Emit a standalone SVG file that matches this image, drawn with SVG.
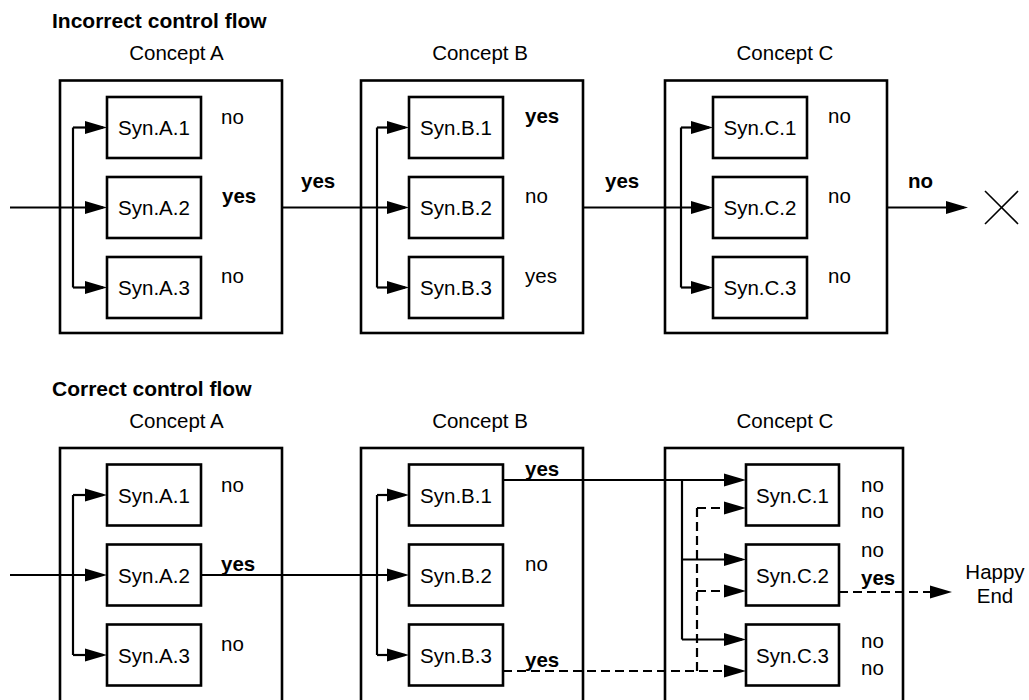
<svg xmlns="http://www.w3.org/2000/svg" width="1029" height="700" viewBox="0 0 1029 700">
<style>
text{font-family:"Liberation Sans",Arial,sans-serif;font-size:20.5px;fill:#000}
.t{font-weight:bold;font-size:21px}
.b{font-weight:bold}
.m{text-anchor:middle}
.outer{fill:none;stroke:#000;stroke-width:2.6}
.syn{fill:#fff;stroke:#000;stroke-width:2.6}
.c{fill:none;stroke:#000;stroke-width:2.2}
.a{fill:none;stroke:#000;stroke-width:2.2;marker-end:url(#ah)}
.d{fill:none;stroke:#000;stroke-width:2.2;stroke-dasharray:9 5}
.da{fill:none;stroke:#000;stroke-width:2.2;stroke-dasharray:9 5;marker-end:url(#ah)}
.x{stroke:#000;stroke-width:1.6}
</style>
<defs>
<marker id="ah" markerUnits="userSpaceOnUse" markerWidth="22" markerHeight="13" refX="18" refY="6.5" orient="auto" overflow="visible">
<path d="M0,0 L22,6.5 L0,13 Z" fill="#000"/>
</marker>
</defs>
<rect width="1029" height="700" fill="#fff"/>

<text class="t" x="52" y="28">Incorrect control flow</text>
<text class="t" x="52" y="395.5">Correct control flow</text>

<!-- Top panel: concepts -->
<g id="top-concept-a"><text class="m" x="176.5" y="60">Concept A</text><rect class="outer" x="60" y="80.5" width="222" height="252.5"/></g>
<g id="top-concept-b"><text class="m" x="480" y="60">Concept B</text><rect class="outer" x="361" y="80.5" width="222" height="252.5"/></g>
<g id="top-concept-c"><text class="m" x="785" y="60">Concept C</text><rect class="outer" x="665" y="80.5" width="222" height="252.5"/></g>

<!-- Bottom panel: concepts -->
<g id="bot-concept-a"><text class="m" x="176.5" y="428">Concept A</text><rect class="outer" x="60" y="448" width="222" height="260"/></g>
<g id="bot-concept-b"><text class="m" x="480" y="428">Concept B</text><rect class="outer" x="361" y="448" width="222" height="260"/></g>
<g id="bot-concept-c"><text class="m" x="785" y="428">Concept C</text><rect class="outer" x="665" y="448" width="238" height="260"/></g>

<!-- Connectors -->
<g id="connectors">
<!-- top -->
<path class="c" d="M73,127.5 V287.5"/>
<path class="a" d="M73,127.5 H103"/>
<path class="a" d="M10,207.5 H103"/>
<path class="a" d="M73,287.5 H103"/>
<path class="c" d="M377,127.5 V287.5"/>
<path class="a" d="M377,127.5 H405"/>
<path class="a" d="M282,207.5 H405"/>
<path class="a" d="M377,287.5 H405"/>
<path class="c" d="M681,127.5 V287.5"/>
<path class="a" d="M681,127.5 H709"/>
<path class="a" d="M583,207.5 H709"/>
<path class="a" d="M681,287.5 H709"/>
<path class="a" d="M887,207.5 H964"/>
<line class="x" x1="985" y1="191" x2="1018" y2="224"/>
<line class="x" x1="985" y1="224" x2="1018" y2="191"/>
<!-- bottom -->
<path class="c" d="M73,495 V655"/>
<path class="a" d="M73,495 H103"/>
<path class="a" d="M10,575 H103"/>
<path class="a" d="M73,655 H103"/>
<path class="c" d="M377,495 V655"/>
<path class="a" d="M377,495 H405"/>
<path class="a" d="M201,575 H405"/>
<path class="a" d="M377,655 H405"/>
<path class="a" d="M503,480 H742"/>
<path class="c" d="M682,480 V639.5"/>
<path class="a" d="M682,559.5 H742"/>
<path class="a" d="M682,639.5 H742"/>
<path class="da" d="M503,671 H742"/>
<path class="d" d="M697,671 V508"/>
<path class="da" d="M697,508 H742"/>
<path class="da" d="M697,591 H742"/>
<path class="da" d="M839,592 H948"/>
</g>

<!-- Top Syn nodes -->
<g id="top-syn-a1"><rect class="syn" x="107" y="97" width="94" height="61"/><text class="m" x="154" y="135">Syn.A.1</text></g>
<g id="top-syn-a2"><rect class="syn" x="107" y="177" width="94" height="61"/><text class="m" x="154" y="215">Syn.A.2</text></g>
<g id="top-syn-a3"><rect class="syn" x="107" y="257" width="94" height="61"/><text class="m" x="154" y="295">Syn.A.3</text></g>
<g id="top-syn-b1"><rect class="syn" x="409" y="97" width="94" height="61"/><text class="m" x="456" y="135">Syn.B.1</text></g>
<g id="top-syn-b2"><rect class="syn" x="409" y="177" width="94" height="61"/><text class="m" x="456" y="215">Syn.B.2</text></g>
<g id="top-syn-b3"><rect class="syn" x="409" y="257" width="94" height="61"/><text class="m" x="456" y="295">Syn.B.3</text></g>
<g id="top-syn-c1"><rect class="syn" x="713" y="97" width="94" height="61"/><text class="m" x="760" y="135">Syn.C.1</text></g>
<g id="top-syn-c2"><rect class="syn" x="713" y="177" width="94" height="61"/><text class="m" x="760" y="215">Syn.C.2</text></g>
<g id="top-syn-c3"><rect class="syn" x="713" y="257" width="94" height="61"/><text class="m" x="760" y="295">Syn.C.3</text></g>
<g id="x-end"></g>

<!-- Bottom Syn nodes -->
<g id="bot-syn-a1"><rect class="syn" x="107" y="464.5" width="94" height="61"/><text class="m" x="154" y="502.5">Syn.A.1</text></g>
<g id="bot-syn-a2"><rect class="syn" x="107" y="544.5" width="94" height="61"/><text class="m" x="154" y="582.5">Syn.A.2</text></g>
<g id="bot-syn-a3"><rect class="syn" x="107" y="624.5" width="94" height="61"/><text class="m" x="154" y="662.5">Syn.A.3</text></g>
<g id="bot-syn-b1"><rect class="syn" x="409" y="464.5" width="94" height="61"/><text class="m" x="456" y="502.5">Syn.B.1</text></g>
<g id="bot-syn-b2"><rect class="syn" x="409" y="544.5" width="94" height="61"/><text class="m" x="456" y="582.5">Syn.B.2</text></g>
<g id="bot-syn-b3"><rect class="syn" x="409" y="624.5" width="94" height="61"/><text class="m" x="456" y="662.5">Syn.B.3</text></g>
<g id="bot-syn-c1"><rect class="syn" x="746" y="464.5" width="93" height="61"/><text class="m" x="792.5" y="502.5">Syn.C.1</text></g>
<g id="bot-syn-c2"><rect class="syn" x="746" y="544.5" width="93" height="61"/><text class="m" x="792.5" y="582.5">Syn.C.2</text></g>
<g id="bot-syn-c3"><rect class="syn" x="746" y="624.5" width="93" height="61"/><text class="m" x="792.5" y="662.5">Syn.C.3</text></g>
<g id="happy-end"><text class="m" x="995" y="579">Happy</text><text class="m" x="995" y="603">End</text></g>

<!-- Labels -->
<g id="labels">
<text x="221" y="124">no</text>
<text class="b" x="222" y="203">yes</text>
<text x="221" y="283">no</text>
<text class="b" x="525" y="123">yes</text>
<text x="525" y="203">no</text>
<text x="525" y="283">yes</text>
<text x="828" y="123">no</text>
<text x="828" y="203">no</text>
<text x="828" y="283">no</text>
<text class="b" x="301" y="188">yes</text>
<text class="b" x="605" y="188">yes</text>
<text class="b" x="908" y="188">no</text>

<text x="221" y="491.5">no</text>
<text class="b" x="221" y="571">yes</text>
<text x="221" y="651">no</text>
<text class="b" x="525" y="476">yes</text>
<text x="525" y="571">no</text>
<text class="b" x="525" y="667">yes</text>
<text x="861" y="491.5">no</text>
<text x="861" y="518">no</text>
<text x="861" y="557">no</text>
<text class="b" x="861" y="585">yes</text>
<text x="861" y="648">no</text>
<text x="861" y="675">no</text>
</g>
</svg>
